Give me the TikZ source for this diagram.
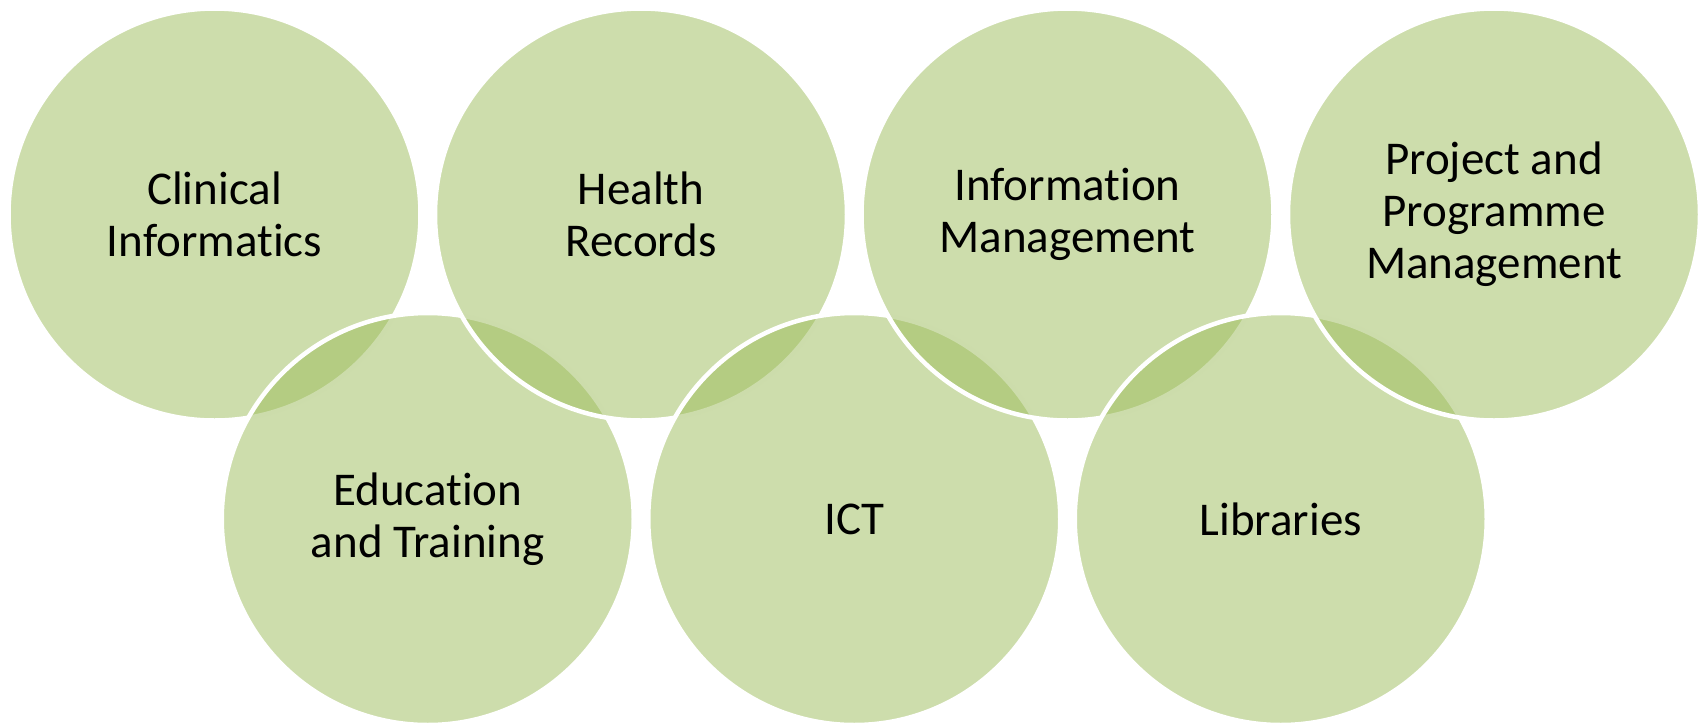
\documentclass[tikz,border=0pt]{standalone}
\usepackage{fontspec}
\setmainfont{Carlito}[Ligatures={NoCommon,NoContextual}]
\usepackage{tikz}

\definecolor{olivegreen}{RGB}{155,187,89}
\tikzset{
  venn/.style={circle, minimum size=206pt, inner sep=0pt, fill=olivegreen, fill opacity=0.5,
    text opacity=1, draw=white, line width=2.25pt, align=center,
    font=\fontsize{23.5pt}{26pt}\selectfont}
}

\begin{document}
\begin{tikzpicture}[x=0.5pt,y=0.5pt,yscale=-1,xscale=1]
\useasboundingbox (0,0) rectangle (1705,724);

% Circle
\node [venn] (clin) at (214.5,214.5) {Clinical\\Informatics};
% Circle
\node [venn] (edu) at (427.75,519) {Education\\and Training};
% Circle
\node [venn] (hr) at (641,214.5) {Health\\Records};
% Circle
\node [venn] (ict) at (854.25,519) {ICT};
% Circle
\node [venn] (im) at (1067.5,214.5) {Information\\Management};
% Circle
\node [venn] (lib) at (1280.75,519) {Libraries};
% Circle
\node [venn] (ppm) at (1494,214.5) {Project and\\Programme\\Management};
\end{tikzpicture}
\end{document}
